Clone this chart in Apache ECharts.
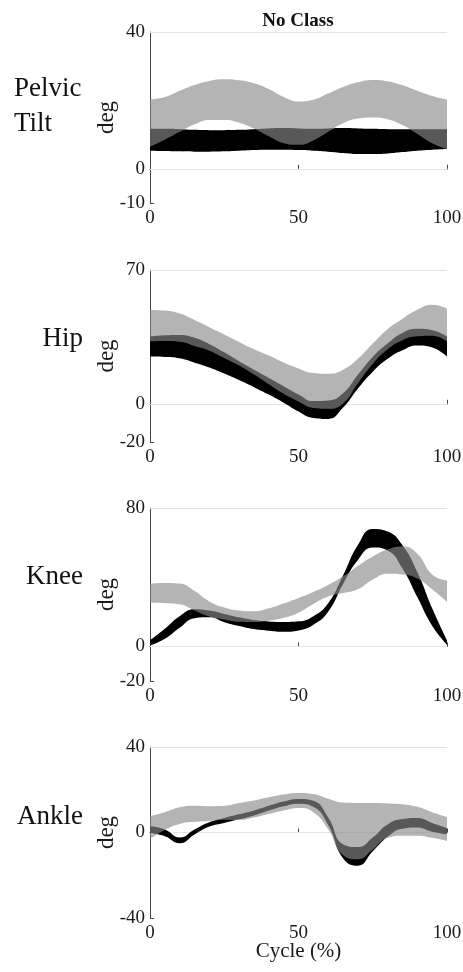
<!DOCTYPE html>
<html>
<head>
<meta charset="utf-8">
<script src="https://cdn.jsdelivr.net/npm/echarts@6/dist/echarts.min.js"></script>
<style>
  html, body { margin: 0; padding: 0; background: #fff; }
  #chart { width: 463px; height: 972px; }
</style>
</head>
<body>
<div id="chart"></div>
<script>
// Gait cycle sample positions (% of cycle)
const cycle = [0, 5, 10, 15, 20, 25, 30, 35, 40, 45, 50, 55, 60, 65, 70, 75, 80, 85, 90, 95, 100];

// Reference band (black): lower / upper bounds, degrees
const pelvisRefLo = [5.3, 5.2, 5.1, 5.0, 5.0, 5.1, 5.3, 5.5, 5.6, 5.6, 5.5, 5.3, 5.0, 4.6, 4.3, 4.3, 4.5, 4.9, 5.3, 5.6, 5.8];
const pelvisRefHi = [11.7, 11.7, 11.6, 11.4, 11.3, 11.3, 11.4, 11.6, 11.8, 11.9, 11.8, 11.7, 11.8, 11.9, 11.8, 11.7, 11.6, 11.6, 11.6, 11.6, 11.6];
// Group band (grey): lower / upper bounds, degrees
const pelvisGrpLo = [6.5, 8.5, 10.8, 13.0, 14.3, 14.3, 13.5, 11.8, 9.5, 7.5, 7.0, 8.3, 10.8, 13.3, 14.7, 15.0, 14.5, 12.8, 10.2, 7.5, 5.8];
const pelvisGrpHi = [20.3, 21.0, 22.8, 24.5, 25.7, 26.2, 25.9, 25.0, 23.3, 21.0, 19.7, 20.2, 22.0, 23.9, 25.3, 26.0, 25.6, 24.4, 22.8, 21.3, 20.3];

const hipRefLo = [24.7, 24.5, 23.8, 21.5, 19.0, 15.8, 12.4, 8.7, 4.8, 0.6, -4.0, -7.4, -7.9, -2.0, 8.0, 16.8, 23.5, 28.0, 30.5, 29.5, 24.7];
const hipRefHi = [35.2, 35.8, 36.0, 34.5, 31.2, 26.9, 22.2, 17.8, 13.5, 9.2, 4.9, 1.4, 1.7, 5.5, 15.2, 24.5, 31.5, 37.0, 39.2, 38.5, 35.2];
const hipGrpLo = [32.6, 32.8, 32.4, 30.2, 27.8, 24.0, 20.0, 15.3, 10.2, 5.2, 1.2, -2.2, -2.6, 0.2, 10.8, 20.8, 28.5, 33.3, 35.3, 35.6, 32.6];
const hipGrpHi = [49.1, 48.8, 47.2, 43.8, 40.0, 36.2, 32.3, 28.5, 25.2, 21.6, 18.5, 16.1, 15.7, 17.8, 23.5, 31.5, 39.0, 44.5, 49.2, 51.8, 49.8];

const kneeRefLo = [0.5, 4.4, 10.8, 16.3, 16.8, 14.0, 11.8, 10.0, 9.0, 8.4, 9.2, 12.5, 20.0, 36.0, 50.0, 57.2, 55.5, 45.0, 28.5, 12.0, 1.0];
const kneeRefHi = [3.5, 10.2, 17.5, 21.5, 20.7, 18.8, 16.8, 15.2, 14.4, 14.1, 14.5, 17.5, 25.0, 41.0, 58.6, 67.9, 66.4, 58.5, 43.0, 22.0, 3.5];
const kneeGrpLo = [25.3, 25.0, 24.3, 20.8, 17.3, 15.5, 14.2, 14.1, 14.8, 16.5, 19.5, 24.5, 28.8, 30.8, 33.0, 38.6, 42.0, 41.5, 39.2, 33.0, 25.7];
const kneeGrpHi = [36.3, 36.7, 36.3, 32.0, 26.0, 22.5, 20.8, 20.3, 22.0, 24.8, 28.0, 31.5, 35.5, 40.5, 46.5, 52.0, 56.0, 57.7, 53.5, 41.5, 38.0];

const ankleRefLo = [-0.2, -1.7, -5.0, -0.9, 2.8, 4.5, 6.2, 8.0, 10.3, 12.3, 13.5, 12.0, 3.5, -12.0, -15.5, -8.8, -2.0, 1.8, 2.3, 0.3, -0.9];
const ankleRefHi = [2.9, 1.4, -2.3, 1.4, 4.8, 6.8, 8.5, 10.3, 12.5, 14.5, 15.7, 14.8, 7.0, -5.5, -6.8, -2.3, 3.8, 6.3, 6.8, 4.5, 2.1];
const ankleGrpLo = [-3.0, 1.2, 4.0, 5.0, 5.4, 6.0, 5.8, 7.0, 8.6, 10.3, 11.5, 9.5, 1.5, -10.5, -12.5, -8.0, -2.5, -1.5, -1.5, -2.5, -4.0];
const ankleGrpHi = [7.6, 9.5, 11.8, 12.5, 12.3, 12.5, 13.8, 15.0, 16.5, 17.8, 18.5, 18.0, 15.8, 14.0, 13.8, 13.8, 13.6, 13.2, 12.0, 9.5, 7.2];

// Y-axis extents and labelled ticks per joint
const jointNames = ['Pelvic Tilt', 'Hip', 'Knee', 'Ankle'];
const yMin = [-10, -20, -20, -40];
const yMax = [40, 70, 80, 40];
const yStep = [10, 10, 20, 40];
const yTicks = [[-10, 0, 40], [-20, 0, 70], [-20, 0, 80], [-40, 0, 40]];
const xTickEvery = 10; // one labelled tick every 10 samples -> 0, 50, 100

const bands = [
  [pelvisRefLo, pelvisRefHi, pelvisGrpLo, pelvisGrpHi],
  [hipRefLo, hipRefHi, hipGrpLo, hipGrpHi],
  [kneeRefLo, kneeRefHi, kneeGrpLo, kneeGrpHi],
  [ankleRefLo, ankleRefHi, ankleGrpLo, ankleGrpHi]
];

const FONT = '"Liberation Serif", "Times New Roman", serif';
const AXIS_COLOR = '#444';
const TEXT_COLOR = '#1a1a1a';
const REF_COLOR = '#000000';
const GRP_COLOR = 'rgb(138,138,138)';
const GRP_OPACITY = 0.64;

// Panel placement in pixels (left edge / width shared)
const gridTop = [32, 270, 508, 747];
const gridHeight = [171, 172, 173, 171];

const grids = [], xAxes = [], yAxes = [], series = [];

function widths(lo, hi) { return lo.map((v, k) => +(hi[k] - v).toFixed(2)); }
const everyTenth = (idx) => idx % xTickEvery === 0;

function band(i, lo, hi, color, opacity, key) {
  const base = {
    type: 'line', xAxisIndex: i, yAxisIndex: i,
    stack: key + i, stackStrategy: 'all',
    smooth: 0.5, symbol: 'none', silent: true, animation: false, z: 3
  };
  const lower = Object.assign({}, base, {
    data: lo.slice(),
    lineStyle: { width: 0, opacity: 0 }
  });
  const upper = Object.assign({}, base, {
    data: widths(lo, hi),
    lineStyle: { width: 0, opacity: 0 },
    areaStyle: { color: color, opacity: opacity }
  });
  return [lower, upper];
}

// Light horizontal guides at 0 and at the axis maximum, kept beneath the bands
function guides(i) {
  return {
    type: 'line', xAxisIndex: i, yAxisIndex: i, z: 1,
    data: [], symbol: 'none', silent: true, animation: false,
    markLine: {
      silent: true, animation: false, z: 1,
      symbol: ['none', 'none'],
      label: { show: false },
      lineStyle: { color: '#e4e4e4', width: 1, type: 'solid' },
      data: [{ yAxis: 0 }, { yAxis: yMax[i] }]
    }
  };
}

for (let i = 0; i < 4; i++) {
  grids.push({ left: 150, width: 297, top: gridTop[i], height: gridHeight[i], outerBoundsMode: 'none' });
  const last = i === 3;
  xAxes.push({
    gridIndex: i, type: 'category', data: cycle.map(String), boundaryGap: false,
    name: last ? 'Cycle (%)' : '',
    nameLocation: 'middle', nameGap: 23, nameMoveOverlap: false,
    nameTextStyle: { fontFamily: FONT, fontSize: 21, color: TEXT_COLOR },
    axisLine: { show: true, lineStyle: { color: AXIS_COLOR, width: 1 } },
    axisTick: { show: true, inside: true, length: 4, interval: everyTenth, lineStyle: { color: AXIS_COLOR } },
    axisLabel: { show: true, interval: everyTenth, fontFamily: FONT, fontSize: 19, color: TEXT_COLOR, margin: 6 },
    splitLine: { show: false }
  });
  yAxes.push({
    gridIndex: i, type: 'value', min: yMin[i], max: yMax[i], interval: yStep[i],
    name: 'deg', nameLocation: 'middle', nameGap: 32, nameMoveOverlap: false,
    nameTextStyle: { fontFamily: FONT, fontSize: 23, color: TEXT_COLOR },
    axisLine: { show: true, lineStyle: { color: AXIS_COLOR, width: 1 } },
    axisTick: { show: true, inside: true, length: 4, customValues: yTicks[i], lineStyle: { color: AXIS_COLOR } },
    axisLabel: { show: true, customValues: yTicks[i], fontFamily: FONT, fontSize: 19, color: TEXT_COLOR, margin: 5 },
    splitLine: { show: false }
  });
  const [rLo, rHi, gLo, gHi] = bands[i];
  series.push(guides(i));
  series.push(...band(i, rLo, rHi, REF_COLOR, 1, 'ref'));
  series.push(...band(i, gLo, gHi, GRP_COLOR, GRP_OPACITY, 'grp'));
}

// Row titles on the left, plus the figure heading
const labelFont = '27px ' + FONT;
function label(text, x, y, align) {
  return {
    type: 'text', x: x, y: y, silent: true,
    style: {
      text: text, font: labelFont, fill: '#111',
      align: align, verticalAlign: 'middle',
      textAlign: align, textVerticalAlign: 'middle'
    }
  };
}
const graphics = [
  {
    type: 'text', x: 298, y: 21, silent: true,
    style: {
      text: 'No Class', font: 'bold 19px ' + FONT, fill: '#111',
      align: 'center', verticalAlign: 'middle', textAlign: 'center', textVerticalAlign: 'middle'
    }
  },
  label('Pelvic', 14, 89, 'left'),
  label('Tilt', 14, 124, 'left'),
  label(jointNames[1], 83, 339, 'right'),
  label(jointNames[2], 83, 577, 'right'),
  label(jointNames[3], 83, 817, 'right')
];

const chart = echarts.init(document.getElementById('chart'), null, { renderer: 'canvas' });
chart.setOption({
  backgroundColor: '#ffffff',
  animation: false,
  grid: grids,
  xAxis: xAxes,
  yAxis: yAxes,
  series: series,
  graphic: graphics
});
</script>
</body>
</html>
